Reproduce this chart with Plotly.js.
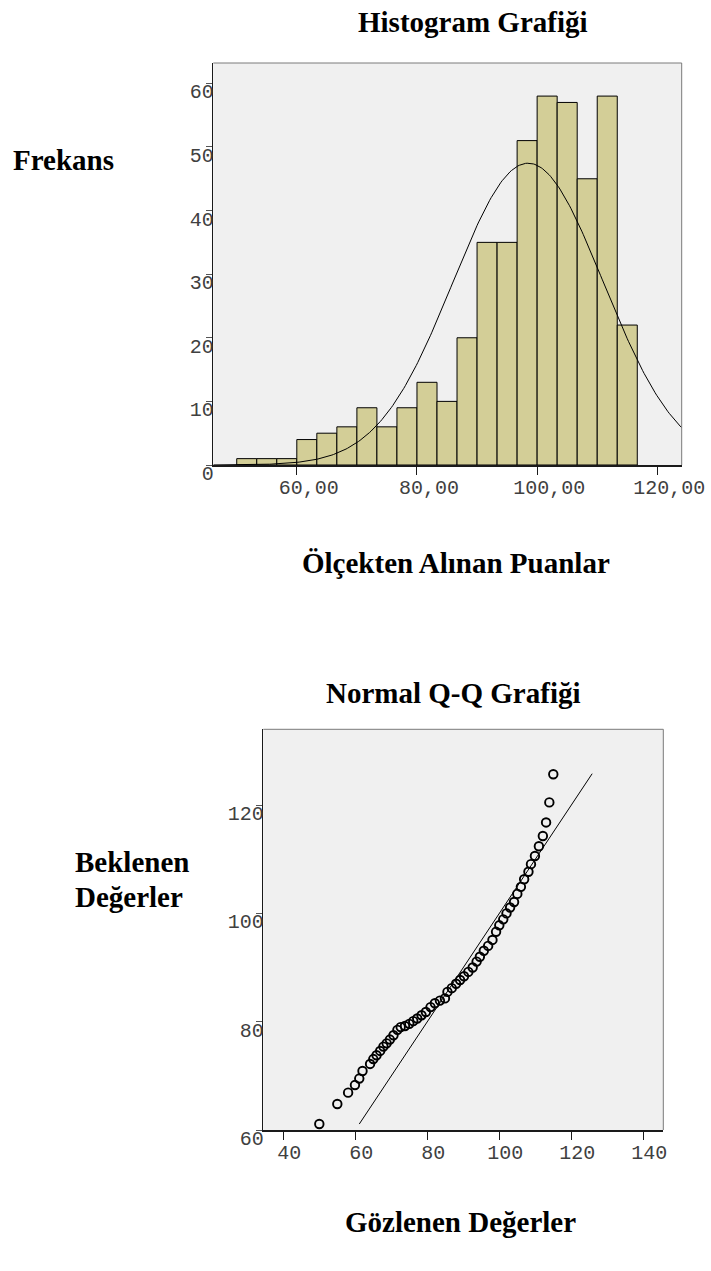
<!DOCTYPE html>
<html>
<head>
<meta charset="utf-8">
<script src="https://cdn.plot.ly/plotly-3.0.1.min.js"></script>
<style>html,body{margin:0;padding:0;background:#fff;}#chart{width:711px;height:1271px;}</style>
</head>
<body>
<div id="chart"></div>
<script>
// ---------- Histogram data ----------
const binStart = 50;            // first bin lower edge
const binWidth = 10 / 3;        // bin width
const binCounts = [1, 1, 1, 4, 5, 6, 9, 6, 9, 13, 10, 20, 35, 35, 51, 58, 57, 45, 58, 22];
const histXTicks = [60, 80, 100, 120];
const histXTickText = ['60,00', '80,00', '100,00', '120,00'];
const histYTicks = [0, 10, 20, 30, 40, 50, 60];
// normal curve fit parameters
const fitMean = 98.5;
const fitSD = 12.5;
const fitN = 446;

// ---------- Q-Q data ----------
const qqObserved = [50.0, 55.0, 58.0, 59.9, 61.1, 62.0, 64.1, 65.0, 65.9, 66.9, 67.8, 68.7, 69.6, 70.6, 71.7, 72.6,
  73.8, 75.0, 76.1, 77.2, 78.4, 79.6, 80.9, 82.1, 83.5, 84.9, 85.6, 86.8, 88.0, 89.1, 90.2, 91.4, 92.6, 93.7,
  94.6, 95.7, 96.9, 98.1, 99.1, 100.0, 101.1, 102.0, 103.0, 104.1, 105.0, 106.0, 106.9, 108.1, 108.8, 109.9,
  111.0, 112.1, 113.0, 113.9, 115.0];
const qqExpected = [61.1, 64.8, 66.9, 68.3, 69.5, 70.9, 72.2, 73.1, 73.8, 74.6, 75.4, 76.0, 76.7, 77.5, 78.5, 79.0,
  79.2, 79.6, 80.1, 80.6, 81.2, 81.8, 82.7, 83.4, 83.9, 84.3, 85.5, 86.2, 87.0, 87.7, 88.4, 89.2, 90.0, 91.1,
  92.0, 93.1, 94.0, 95.1, 96.6, 97.8, 98.9, 100.0, 101.1, 102.1, 103.6, 104.9, 106.3, 107.7, 109.1, 110.6,
  112.4, 114.3, 116.8, 120.5, 125.7];
const qqLineX = [61.1, 125.8];
const qqLineY = [61.1, 125.8];
const qqXTicks = [40, 60, 80, 100, 120, 140];
const qqYTicks = [60, 80, 100, 120];

// ---------- derived ----------
const binCenters = binCounts.map((_, i) => binStart + (i + 0.5) * binWidth);
const xMinH = 46.1, xMaxH = 124.06;
const curveX = [], curveY = [];
const peak = fitN * binWidth / (fitSD * Math.sqrt(2 * Math.PI));
for (let k = 0; k <= 300; k++) {
  const x = xMinH + (xMaxH - xMinH) * k / 300;
  curveX.push(x);
  curveY.push(peak * Math.exp(-0.5 * Math.pow((x - fitMean) / fitSD, 2)));
}

const W = 711, H = 1271;
const px = v => v / W;
const py = v => 1 - v / H;

const tickFont = {family: '"Liberation Mono", "Courier New", monospace', size: 20, color: '#404040'};
const titleFont = {family: '"Liberation Serif", "Times New Roman", serif', size: 29, color: '#000'};

const traces = [
  {type: 'bar', x: binCenters, y: binCounts, width: binWidth, xaxis: 'x', yaxis: 'y',
   marker: {color: '#d3ce97', line: {color: '#000', width: 1}}, hoverinfo: 'skip'},
  {type: 'scatter', mode: 'lines', x: curveX, y: curveY, xaxis: 'x', yaxis: 'y',
   line: {color: '#000', width: 1}, hoverinfo: 'skip'},
  {type: 'scatter', mode: 'lines', x: qqLineX, y: qqLineY, xaxis: 'x2', yaxis: 'y2',
   line: {color: '#000', width: 1}, hoverinfo: 'skip'},
  {type: 'scatter', mode: 'markers', x: qqObserved, y: qqExpected, xaxis: 'x2', yaxis: 'y2',
   marker: {symbol: 'circle-open', size: 8.5, color: '#000', line: {width: 1.9}}, hoverinfo: 'skip'}
];

const axisCommon = {showgrid: false, zeroline: false, showline: true, linecolor: '#1a1a1a', linewidth: 1.5,
  ticks: 'outside', tickcolor: '#1a1a1a', tickwidth: 1, tickfont: tickFont, fixedrange: true};

const layout = {
  width: W, height: H,
  margin: {l: 0, r: 0, t: 0, b: 0},
  paper_bgcolor: '#fff', plot_bgcolor: '#f0f0f0',
  showlegend: false, bargap: 0,
  xaxis: Object.assign({}, axisCommon, {domain: [px(213.3), px(681.7)], range: [xMinH, xMaxH], anchor: 'y',
    tickvals: histXTicks, ticktext: histXTickText, ticklen: 8, ticklabelshift: 12, ticklabelstandoff: -5}),
  yaxis: Object.assign({}, axisCommon, {domain: [py(465), py(63)], range: [0, 63.2], anchor: 'x',
    tickvals: histYTicks, ticklen: 6, tickcolor: '#555', ticklabelshift: 8, ticklabelstandoff: -12}),
  xaxis2: Object.assign({}, axisCommon, {domain: [px(263.3), px(663.3)], range: [34.44, 145.56], anchor: 'y2',
    tickvals: qqXTicks, ticklen: 8, ticklabelshift: 6, ticklabelstandoff: -5}),
  yaxis2: Object.assign({}, axisCommon, {domain: [py(1130), py(729.3)], range: [60, 134], anchor: 'x2',
    tickvals: qqYTicks, ticklen: 6, tickcolor: '#555', ticklabelshift: 8, ticklabelstandoff: -12}),
  shapes: [
    {type: 'line', xref: 'x domain', yref: 'y domain', x0: 0, x1: 1, y0: 1, y1: 1, line: {color: '#7a7a7a', width: 1}},
    {type: 'line', xref: 'x domain', yref: 'y domain', x0: 1, x1: 1, y0: 0, y1: 1, line: {color: '#7a7a7a', width: 1}},
    {type: 'line', xref: 'x2 domain', yref: 'y2 domain', x0: 0, x1: 1, y0: 1, y1: 1, line: {color: '#7a7a7a', width: 1}},
    {type: 'line', xref: 'x2 domain', yref: 'y2 domain', x0: 1, x1: 1, y0: 0, y1: 1, line: {color: '#7a7a7a', width: 1}}
  ],
  annotations: [
    {text: '<b>Histogram Grafiği</b>', x: px(473), y: py(22), xref: 'paper', yref: 'paper', xanchor: 'center', yanchor: 'middle', showarrow: false, font: titleFont},
    {text: '<b>Frekans</b>', x: px(11), y: py(160), xref: 'paper', yref: 'paper', xanchor: 'left', yanchor: 'middle', showarrow: false, font: titleFont},
    {text: '<b>Ölçekten Alınan Puanlar</b>', x: px(456), y: py(563), xref: 'paper', yref: 'paper', xanchor: 'center', yanchor: 'middle', showarrow: false, font: titleFont},
    {text: '<b>Normal Q-Q Grafiği</b>', x: px(453), y: py(693), xref: 'paper', yref: 'paper', xanchor: 'center', yanchor: 'middle', showarrow: false, font: titleFont},
    {text: '<b>Beklenen</b>', x: px(73), y: py(862), xref: 'paper', yref: 'paper', xanchor: 'left', yanchor: 'middle', showarrow: false, font: titleFont},
    {text: '<b>Değerler</b>', x: px(73), y: py(897), xref: 'paper', yref: 'paper', xanchor: 'left', yanchor: 'middle', showarrow: false, font: titleFont},
    {text: '<b>Gözlenen Değerler</b>', x: px(460), y: py(1222), xref: 'paper', yref: 'paper', xanchor: 'center', yanchor: 'middle', showarrow: false, font: titleFont}
  ]
};

Plotly.newPlot('chart', traces, layout, {staticPlot: true, displayModeBar: false});
</script>
</body>
</html>
